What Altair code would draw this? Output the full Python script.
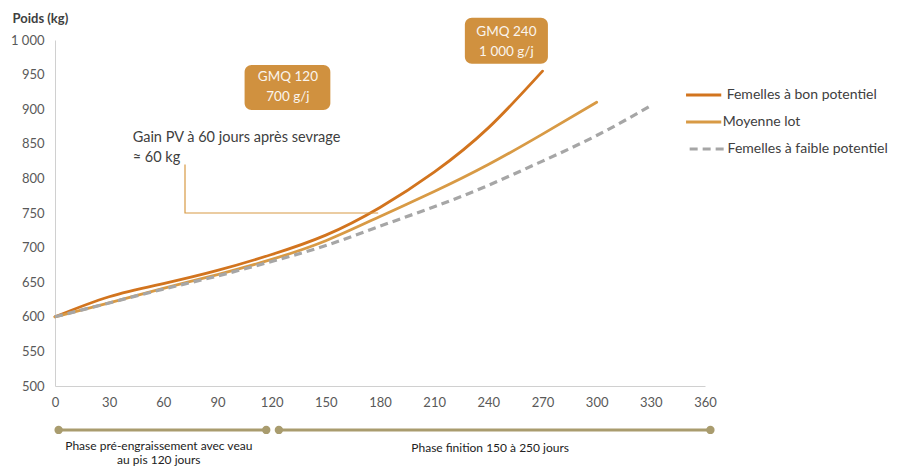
import altair as alt
import pandas as pd

FONT = "Lato"

# ---- data ----
days_bon = [0, 30, 60, 90, 120, 150, 180, 210, 240, 270]
poids_bon = [600, 629, 648, 667, 690, 718, 758, 809, 873, 955]

days_moy = [0, 30, 60, 90, 120, 150, 180, 210, 240, 270, 300]
poids_moy = [600, 620, 641, 661, 683, 710, 745, 781, 820, 864, 910]

days_faible = [0, 30, 60, 90, 120, 150, 180, 210, 240, 270, 300, 330]
poids_faible = [600, 620, 640, 659, 680, 703, 731, 759, 790, 825, 862, 905]

series = ["Femelles à bon potentiel", "Moyenne lot", "Femelles à faible potentiel"]
colors = ["#D2741E", "#D89A45", "#A6A6A6"]

x_ticks = list(range(0, 361, 30))
y_ticks = list(range(500, 1001, 50))

rows = []
for d, p in zip(days_bon, poids_bon):
    rows.append({"jour": d, "poids": p, "serie": series[0]})
for d, p in zip(days_moy, poids_moy):
    rows.append({"jour": d, "poids": p, "serie": series[1]})
for d, p in zip(days_faible, poids_faible):
    rows.append({"jour": d, "poids": p, "serie": series[2]})
df = pd.DataFrame(rows)

xs = alt.Scale(domain=[0, 360], nice=False, zero=False)
ys = alt.Scale(domain=[500, 1000], nice=False, zero=False)

x_axis = alt.Axis(values=x_ticks, grid=False, ticks=False, domainColor="#D0D0D0",
                  labelFont=FONT, labelFontSize=13, labelColor="#595959",
                  labelPadding=10, title=None, labelFlush=False)
y_axis = alt.Axis(values=y_ticks, grid=False, ticks=False, domainColor="#D0D0D0",
                  labelFont=FONT, labelFontSize=13, labelColor="#595959",
                  labelPadding=11, title="Poids (kg)", titleAngle=0,
                  titleAlign="left", titleBaseline="middle", titleX=-43, titleY=-22,
                  titleFont=FONT, titleFontSize=13, titleFontWeight="bold",
                  titleColor="#404040",
                  labelExpr="replace(format(datum.value, ','), ',', ' ')")


def X(f):
    return alt.X(f, type="quantitative", scale=xs, axis=x_axis)


def Y(f):
    return alt.Y(f, type="quantitative", scale=ys, axis=y_axis)


base = alt.Chart(df)


def curve(i, dash=None):
    kw = dict(strokeWidth=2.8, strokeCap="round", interpolate="natural", color=colors[i])
    if dash:
        kw["strokeDash"] = dash
        kw["strokeCap"] = "butt"
        kw["strokeWidth"] = 3.2
    return base.transform_filter(alt.datum.serie == series[i]).mark_line(**kw).encode(
        x=X("jour"), y=Y("poids"), order="jour:Q")


l_bon = curve(0)
l_moy = curve(1)
l_faible = curve(2, dash=[8, 5])

# ---- callout ----
call_df = pd.DataFrame({"jour": [72, 72, 179], "poids": [820, 750, 750], "o": [0, 1, 2]})
callout = alt.Chart(call_df).mark_line(color="#D89A45", strokeWidth=1.2).encode(
    x=X("jour"), y=Y("poids"), order="o:Q")

call_txt_df = pd.DataFrame({"jour": [43, 43], "poids": [858, 829.5],
                            "t": ["Gain PV à 60 jours après sevrage", "≈ 60 kg"]})
call_txt = alt.Chart(call_txt_df).mark_text(font=FONT, fontSize=14.5, color="#404040",
                                            align="left", baseline="middle").encode(
    x=X("jour"), y=Y("poids"), text="t:N")

# ---- GMQ boxes ----
box_df = pd.DataFrame({"x1": [105, 227], "x2": [152.5, 273],
                       "y1": [899, 965.5], "y2": [964, 1032]})
boxes = alt.Chart(box_df).mark_rect(color="#D0913F", cornerRadius=7).encode(
    x=X("x1"), x2="x2:Q", y=Y("y1"), y2="y2:Q")

box_txt_df = pd.DataFrame({"jour": [129, 129, 250, 250],
                           "poids": [946.5, 917.5, 1011.5, 982.5],
                           "t": ["GMQ 120", "700 g/j", "GMQ 240", "1 000 g/j"]})
box_txt = alt.Chart(box_txt_df).mark_text(font=FONT, fontSize=13.5, color="#FAF5EE",
                                          align="center", baseline="middle").encode(
    x=X("jour"), y=Y("poids"), text="t:N")

# ---- legend (manual) ----
leg_df = pd.DataFrame({"serie": series, "x1": [349.5, 349.5, 351.5], "x2": [369, 369, 371],
                       "poids": [920.5, 881.5, 842.5], "tx": [372, 369.8, 372.5]})
leg_lines = []
for i in range(3):
    kw = dict(color=colors[i], strokeWidth=2.8)
    if i == 2:
        kw["strokeDash"] = [8, 5]
        kw["strokeWidth"] = 3.2
    leg_lines.append(
        alt.Chart(leg_df).transform_filter(alt.datum.serie == series[i]).mark_rule(**kw).encode(
            x=X("x1"), x2="x2:Q", y=Y("poids")))
leg_txt = alt.Chart(leg_df).mark_text(font=FONT, fontSize=14, color="#404040",
                                      align="left", baseline="middle").encode(
    x=X("tx"), y=Y("poids"), text="serie:N")

# ---- phase timeline ----
phase_df = pd.DataFrame({"x1": [2, 124], "x2": [117, 363], "poids": [436.5, 436.5]})
tl_color = "#A99C6E"
tl_rules = alt.Chart(phase_df).mark_rule(color=tl_color, strokeWidth=3).encode(
    x=X("x1"), x2="x2:Q", y=Y("poids"))
dots_df = pd.DataFrame({"jour": [2, 117, 124, 363], "poids": [436.5] * 4})
tl_dots = alt.Chart(dots_df).mark_point(filled=True, color=tl_color, size=70, opacity=1).encode(
    x=X("jour"), y=Y("poids"))
phase_txt_df = pd.DataFrame({"jour": [57.5, 57.5, 241],
                             "poids": [413.5, 392.5, 411],
                             "t": ["Phase pré-engraissement avec veau", "au pis 120 jours",
                                   "Phase finition 150 à 250 jours"]})
phase_txt = alt.Chart(phase_txt_df).mark_text(font=FONT, fontSize=12, color="#222222",
                                              align="center", baseline="middle").encode(
    x=X("jour"), y=Y("poids"), text="t:N")

chart = alt.layer(
    l_bon, l_moy, l_faible, callout, call_txt, boxes, box_txt,
    *leg_lines, leg_txt, tl_rules, tl_dots, phase_txt
).properties(
    width=650, height=346,
    background="white",
    autosize=alt.AutoSizeParams(type="none"),
    padding={"left": 47, "top": 32, "right": 189, "bottom": 80},
).configure_view(strokeWidth=0, stroke="transparent")

chart.save("out.html", embed_options={"renderer": "svg", "actions": False})
